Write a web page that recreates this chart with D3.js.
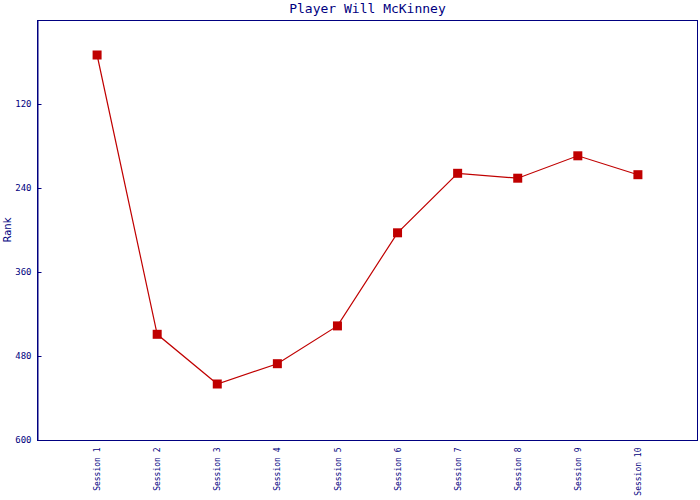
<!DOCTYPE html>
<html><head><meta charset="utf-8">
<script src="https://cdn.jsdelivr.net/npm/d3@7"></script>
<style>body{margin:0;background:#fff}svg{display:block}</style>
</head><body>
<script>
const title = "Player Will McKinney";
const sessions = ["Session 1","Session 2","Session 3","Session 4","Session 5","Session 6","Session 7","Session 8","Session 9","Session 10"];
const ranks = [50, 449, 520, 491, 437, 304, 219, 226, 194, 221];
const yTicks = [120, 240, 360, 480, 600];

const W = 700, H = 500;
const m = {left: 37, right: 2, top: 20, bottom: 60};
const navy = "#000080", red = "#c00000";
const font = "'DejaVu Sans Mono', monospace";

const svg = d3.select("body").append("svg").attr("width", W).attr("height", H);

const x = d3.scalePoint().domain(sessions).range([m.left, W - m.right]).padding(1);
const y = d3.scaleLinear().domain([0, 600]).range([m.top, H - m.bottom]);

// frame
svg.append("rect").attr("x", m.left + 0.5).attr("y", m.top + 0.5)
  .attr("width", W - m.right - m.left - 1).attr("height", H - m.bottom - m.top)
  .attr("fill", "none").attr("stroke", navy).attr("stroke-width", 1);

// y axis
const ya = svg.append("g").attr("transform", `translate(${m.left + 0.5},0)`)
  .call(d3.axisLeft(y).tickValues(yTicks).tickSize(-4).tickPadding(6));
ya.select(".domain").attr("stroke", navy);
ya.selectAll(".tick line").attr("stroke", navy);
ya.selectAll(".tick text").attr("fill", navy).attr("font-family", font).attr("font-size", 9);

// x axis
const xa = svg.append("g").attr("transform", `translate(0,${H - m.bottom + 0.5})`)
  .call(d3.axisBottom(x).tickSize(0).tickPadding(7));
xa.select(".domain").remove();
xa.selectAll(".tick text").attr("fill", navy).attr("font-family", font).attr("font-size", 8)
  .attr("transform", "rotate(-90)").attr("text-anchor", "end").attr("dy", "0.32em")
  .attr("x", -7).attr("y", 0);

// titles
svg.append("text").attr("x", (m.left + W - m.right) / 2).attr("y", 13)
  .attr("text-anchor", "middle").attr("fill", navy).attr("font-family", font).attr("font-size", 13)
  .text(title);
svg.append("text").attr("transform", `translate(11,${(m.top + H - m.bottom) / 2}) rotate(-90)`)
  .attr("text-anchor", "middle").attr("fill", navy).attr("font-family", "'DejaVu Sans', sans-serif").attr("font-size", 10)
  .text("Rank");

// line
svg.append("path").datum(ranks)
  .attr("d", d3.line().x((d, i) => x(sessions[i])).y(d => y(d)))
  .attr("fill", "none").attr("stroke", red).attr("stroke-width", 1.2);

svg.selectAll("rect.pt").data(ranks).enter().append("rect").attr("class", "pt")
  .attr("x", (d, i) => x(sessions[i]) - 4.5).attr("y", d => y(d) - 4.5)
  .attr("width", 9).attr("height", 9).attr("fill", red);
</script>
</body></html>
